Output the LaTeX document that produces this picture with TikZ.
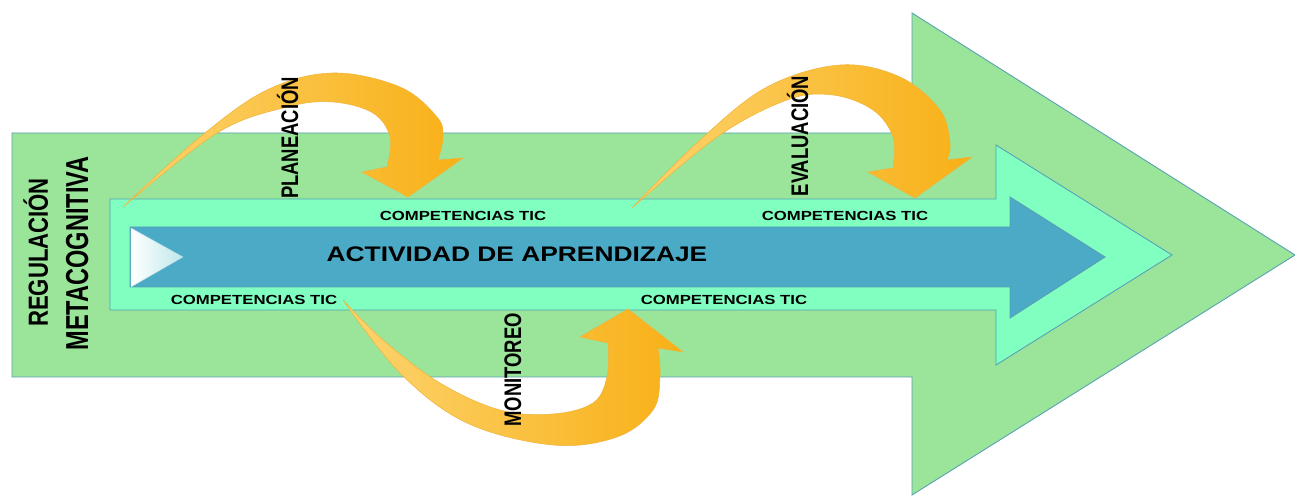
\documentclass[tikz,border=0pt]{standalone}
\usepackage{fontspec}
\usepackage{graphicx}
\setmainfont{Liberation Sans}
\definecolor{greenF}{RGB}{154,229,154}
\definecolor{aquaF}{RGB}{128,255,192}
\definecolor{blueF}{RGB}{75,170,198}
\definecolor{edgeC}{RGB}{88,160,180}
\definecolor{orL}{RGB}{253,212,112}
\definecolor{orD}{RGB}{248,176,22}
\definecolor{orE}{RGB}{240,180,60}
\definecolor{triR}{RGB}{190,232,234}
\begin{document}
\begin{tikzpicture}[x=0.02cm,y=-0.02cm,
  bigshape/.style={draw=edgeC,line width=0.5pt,line join=miter},
  curvarrow/.style={left color=orL,right color=orD,draw=orE,line width=0.3pt},
  comp/.style={font=\fontsize{7.5}{9}\selectfont\bfseries,anchor=base,inner sep=0pt},
  vlab/.style={font=\fontsize{10.5}{12}\selectfont\bfseries,anchor=base,inner sep=0pt,rotate=90},
  rlab/.style={anchor=base,inner sep=0pt,rotate=90}]
\useasboundingbox (0,0) rectangle (1295,496);
% outer green arrow
\path[bigshape,fill=greenF] (12,133) -- (912,133) -- (912,13) -- (1295,255) -- (912,495) -- (912,377) -- (12,377) -- cycle;
% aqua arrow
\path[bigshape,fill=aquaF] (110,199) -- (996,199) -- (996,145) -- (1172,255) -- (996,365) -- (996,310) -- (110,310) -- cycle;
% blue arrow
\path[bigshape,fill=blueF] (130,227) -- (1010,227) -- (1010,197) -- (1105,257) -- (1010,318) -- (1010,287) -- (130,287) -- cycle;
% small triangle
\shade[left color=white,right color=triR,draw=edgeC!40,line width=0.2pt] (131,228) -- (183,257) -- (131,287) -- cycle;
% PLANEACION arrow
\shade[curvarrow] plot[smooth,tension=0.6] coordinates {(123,207) (200,137) (267,90) (333,73) (400,87) (437,117) (443,137) (438,160)}
  -- (463,158) -- (408,197) -- (362,172)
  -- plot[smooth,tension=0.6] coordinates {(387,167) (390,137) (373,113) (333,102) (287,107) (217,133) (123,207)} -- cycle;
% EVALUACION arrow
\shade[curvarrow] plot[smooth,tension=0.6] coordinates {(632,208) (700,140) (767,87) (840,65) (900,77) (940,110) (950,143) (947,160)}
  -- (972,157) -- (915,198) -- (868,172)
  -- plot[smooth,tension=0.6] coordinates {(893,168) (893,137) (873,110) (833,95) (787,100) (717,137) (632,208)} -- cycle;
% MONITOREO arrow
\shade[curvarrow] plot[smooth,tension=0.6] coordinates {(343,300) (400,373) (467,423) (553,445) (617,437) (653,410) (660,377) (658,348)}
  -- (683,352) -- (628,309) -- (580,337)
  -- plot[smooth,tension=0.6] coordinates {(608,343) (607,377) (593,403) (553,414) (500,410) (440,383) (383,340) (343,300)} -- cycle;
% texts
\node[anchor=base,inner sep=0pt,font=\fontsize{12}{14}\selectfont\bfseries] (act) at (517,262) {\scalebox{1.25}[1]{ACTIVIDAD DE APRENDIZAJE}};
\node[comp] (c1) at (463,221) {\scalebox{1.27}[1]{COMPETENCIAS TIC}};
\node[comp] (c2) at (845,221) {\scalebox{1.27}[1]{COMPETENCIAS TIC}};
\node[comp] (c3) at (254,305) {\scalebox{1.27}[1]{COMPETENCIAS TIC}};
\node[comp] (c4) at (724,305) {\scalebox{1.27}[1]{COMPETENCIAS TIC}};
\node[vlab] (plan) at (298,138) {\scalebox{1}[1.3]{PLANEACIÓN}};
\node[vlab] (eval) at (808,136) {\scalebox{1}[1.3]{EVALUACIÓN}};
\node[vlab] (moni) at (521,370) {\scalebox{1}[1.3]{MONITOREO}};
\node[rlab,font=\fontsize{12.6}{14}\selectfont\bfseries] (reg) at (48,252.5) {\scalebox{1}[1.25]{REGULACIÓN}};
\node[rlab,font=\fontsize{13.4}{15}\selectfont\bfseries] (meta) at (88,253.5) {\scalebox{1}[1.35]{METACOGNITIVA}};
\end{tikzpicture}
\end{document}
